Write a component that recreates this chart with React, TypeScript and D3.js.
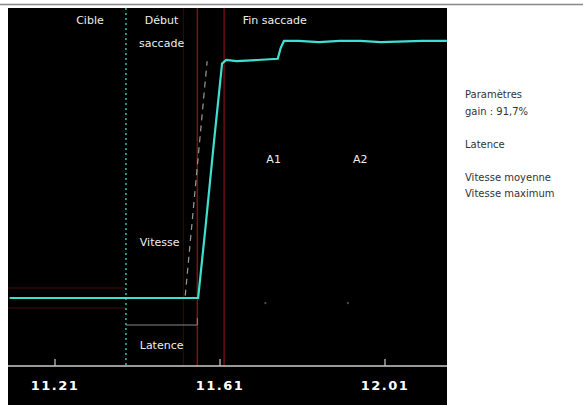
import React from "react";
import * as d3 from "d3";

const times = [11.1, 11.2, 11.3, 11.382, 11.45, 11.52, 11.557, 11.575, 11.595, 11.615, 11.625, 11.65, 11.7, 11.75, 11.757, 11.765, 11.8, 11.85, 11.9, 11.95, 12.0, 12.1, 12.16];
const position = [0, 0, 0, 0, 0, 0, 0, 6.0, 13.0, 19.7, 20.0, 19.9, 20.0, 20.1, 21.0, 21.6, 21.6, 21.5, 21.6, 21.6, 21.5, 21.6, 21.6];
const tickValues = [11.21, 11.61, 12.01];
const tickLabels = ["11.21", "11.61", "12.01"];
const targetTime = 11.382;
const saccadeStart = 11.555;
const saccadeEnd = 11.62;
const stepTime = 11.755;
const velocityLine = [{ t: 11.55, v: 0.2 }, { t: 11.603, v: 19.9 }];
const panelLines = ["Paramètres", "gain : 91,7%", "", "Latence", "", "Vitesse moyenne", "Vitesse maximum"];

export default function App() {
  const W = 583, H = 405;
  const left = 8, right = 447, top = 8, axisY = 366;
  const x = d3.scaleLinear().domain([11.21, 12.01]).range([55, 385]);
  const y = d3.scaleLinear().domain([0, 20]).range([298, 60]);
  const data = times.map((t, i) => ({ t, v: position[i] }));
  const line = d3.line<{ t: number; v: number }>().x(d => x(d.t)).y(d => y(d.v));
  const vline = d3.line<{ t: number; v: number }>().x(d => x(d.t) - 10).y(d => y(d.v));
  const font = "'DejaVu Sans', sans-serif";
  const xt = x(targetTime), xs = x(saccadeStart), xe = x(saccadeEnd);
  return (
    <svg width={W} height={H} style={{ position: "absolute", left: 0, top: 0 }} fontFamily={font}>
      <rect x={0} y={0} width={W} height={H} fill="#fff" />
      <line x1={0} x2={W} y1={4.5} y2={4.5} stroke="#888" strokeWidth={1.5} />
      <rect x={left} y={top} width={right - left} height={H - top} fill="#000" />
      <line x1={left} x2={xt} y1={288} y2={288} stroke="#4a0c0c" strokeWidth={1} />
      <line x1={left} x2={xt} y1={308} y2={308} stroke="#4a0c0c" strokeWidth={1} />
      <line x1={xs - 14} x2={xs - 14} y1={top} y2={axisY} stroke="#3a0808" strokeWidth={1} />
      <line x1={xs} x2={xs} y1={top} y2={axisY} stroke="#7a1414" strokeWidth={1.5} />
      <line x1={xe} x2={xe} y1={top} y2={axisY} stroke="#6a1010" strokeWidth={1.5} />
      <line x1={xt} x2={xt} y1={top} y2={axisY} stroke="#3fbfb5" strokeWidth={1.5} strokeDasharray="2,3" />
      <path d={vline(velocityLine) || ""} stroke="#9a9a9a" strokeWidth={1.2} strokeDasharray="6,5" fill="none" />
      <path d={line(data) || ""} stroke="#3ee0cf" strokeWidth={2.2} fill="none" />
      <line x1={xt} x2={xs} y1={325} y2={325} stroke="#888" strokeWidth={1} />
      <line x1={xs} x2={xs} y1={318} y2={325} stroke="#888" strokeWidth={1} />
      <circle cx={x(11.72)} cy={303} r={1.2} fill="#444" />
      <circle cx={x(11.92)} cy={303} r={1.2} fill="#444" />
      <line x1={left} x2={right} y1={axisY} y2={axisY} stroke="#ccc" strokeWidth={1.5} />
      {tickValues.map((t, i) => (
        <g key={i}>
          <line x1={x(t)} x2={x(t)} y1={axisY - 7} y2={axisY} stroke="#ccc" strokeWidth={1.2} />
          <text x={x(t)} y={390} fill="#fff" fontSize={13} fontWeight="bold" textAnchor="middle" letterSpacing={1.5}>{tickLabels[i]}</text>
        </g>
      ))}
      <g fill="#eee" fontSize={11} textAnchor="middle">
        <text x={(left + xt) / 2 + 23} y={24}>Cible</text>
        <text x={(xt + xs) / 2} y={24}>Début</text>
        <text x={(xt + xs) / 2} y={47}>saccade</text>
        <text x={x(stepTime) - 5} y={24}>Fin saccade</text>
        <text x={(xt + xs) / 2 - 2} y={246}>Vitesse</text>
        <text x={(xt + xs) / 2} y={349}>Latence</text>
        <text x={x(11.74)} y={163}>A1</text>
        <text x={x(11.95)} y={163}>A2</text>
      </g>
      <g fill="#333" fontSize={10}>
        {panelLines.map((s, i) => (
          <text key={i} x={465} y={98 + i * 16.5}>{s}</text>
        ))}
      </g>
    </svg>
  );
}
